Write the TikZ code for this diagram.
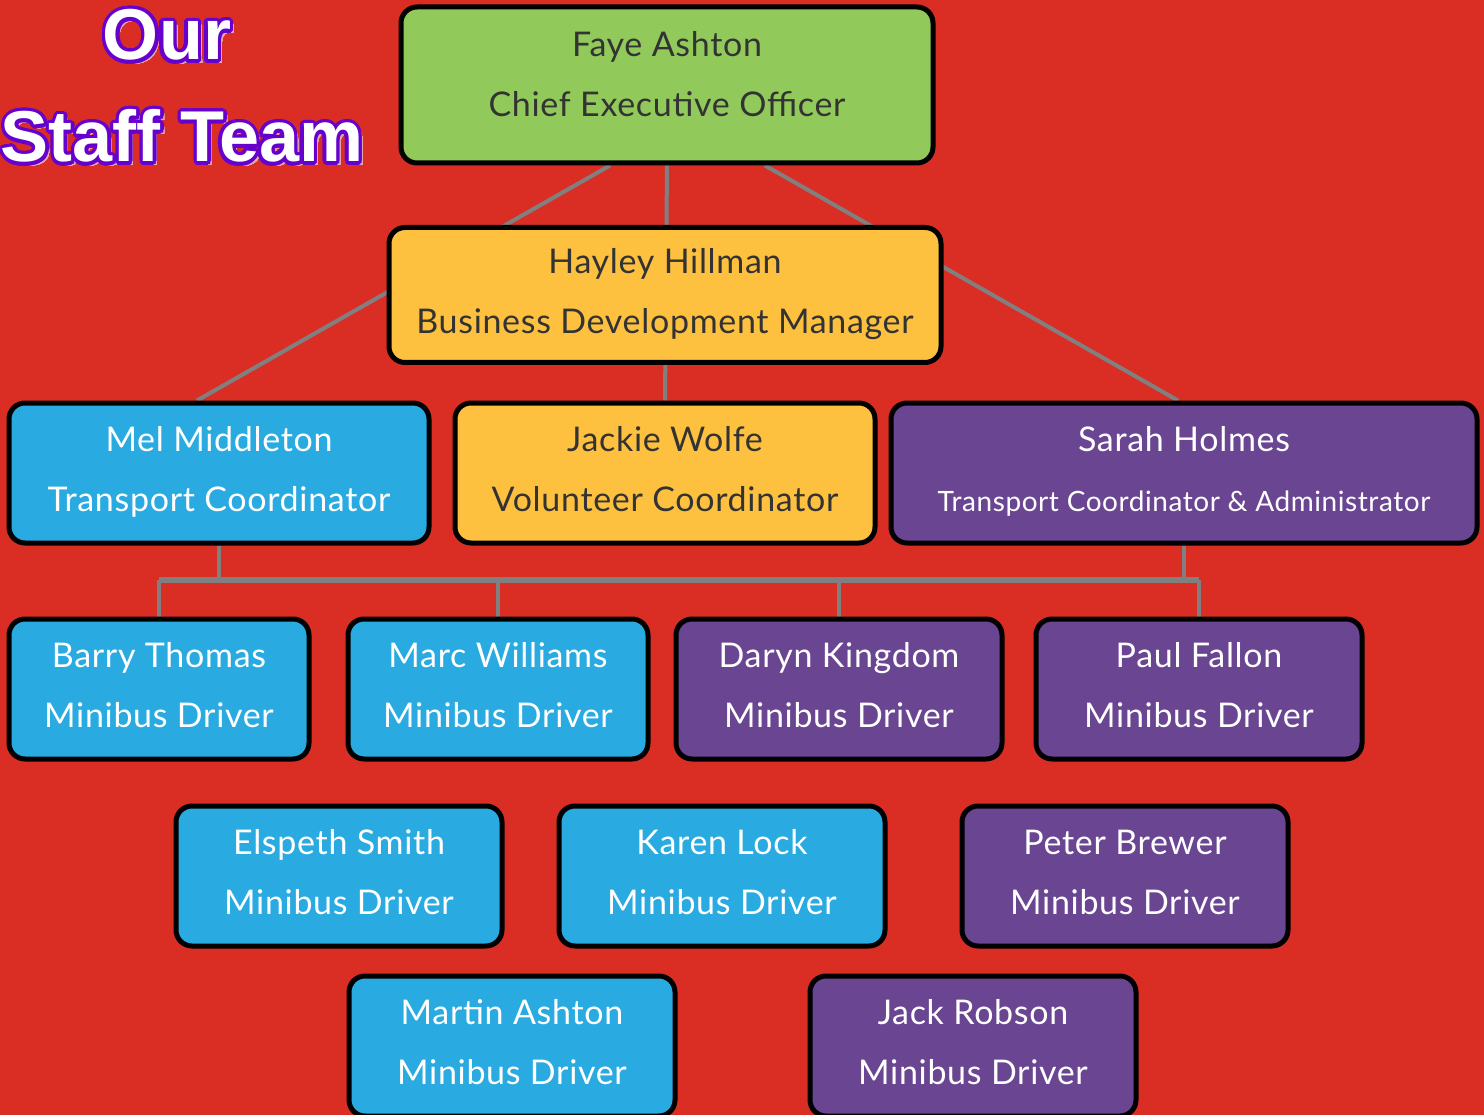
\documentclass[tikz,border=0pt]{standalone}
\usepackage{fontspec}
\setmainfont{Lato}[LetterSpace=2]
\newfontfamily\titlefont{Liberation Sans}
\usetikzlibrary{backgrounds}

\definecolor{bgred}{HTML}{DA2E25}
\definecolor{linegray}{HTML}{808080}
\definecolor{ceogreen}{HTML}{92C95B}
\definecolor{mgryellow}{HTML}{FEC13F}
\definecolor{staffblue}{HTML}{29ABE2}
\definecolor{staffpurple}{HTML}{6A4592}
\definecolor{textdark}{HTML}{333333}
\definecolor{titlepurple}{HTML}{6600CC}
\definecolor{titleshadow}{HTML}{E0A8A8}

\begin{document}
\begin{tikzpicture}[x=1pt,y=-1pt]
    \tikzstyle{edge}=[draw=linegray,line width=4pt]
    \tikzstyle{bus}=[draw=linegray,line width=6pt]
    \tikzstyle{staff}=[rectangle,rounded corners=16pt,draw=black,line width=5pt,
        align=center,inner sep=0pt,minimum height=140pt,text depth=8pt,
        font=\fontsize{34}{60}\selectfont]
    \tikzstyle{greenbox}=[fill=ceogreen,text=textdark]
    \tikzstyle{yellowbox}=[fill=mgryellow,text=textdark]
    \tikzstyle{bluebox}=[fill=staffblue,text=white]
    \tikzstyle{purplebox}=[fill=staffpurple,text=white]
    \tikzstyle{titletext}=[inner sep=0pt,anchor=base,font=\titlefont\bfseries\fontsize{72}{72}\selectfont]

    \def\W{300}
    \def\V{326}

    \useasboundingbox (0,0) rectangle (1484,1115);
    \clip (0,0) rectangle (1484,1115);

    % title
    \foreach \a in {0,22.5,...,337.5} {
        \node[titletext,text=titleshadow] (our-s-\a) at (171,64) {Our};
        \node[titletext,text=titleshadow] (team-s-\a) at (186,166) {Staff Team};
    }
    \foreach \a in {0,22.5,...,337.5} {
        \node[titletext,text=titlepurple,shift={(\a:3.5)}] (our-o-\a) at (167,60) {Our};
        \node[titletext,text=titlepurple,shift={(\a:3.5)}] (team-o-\a) at (182,162) {Staff Team};
    }
    \node[titletext,text=white] (our)  at (167,60)  {Our};
    \node[titletext,text=white] (team) at (182,162) {Staff Team};

    % management
    \node[staff,greenbox,minimum width=532pt,minimum height=156pt,text depth=22pt] (ceo) at (667,85)
        {Faye Ashton\\Chief Executive Officer};
    \node[staff,yellowbox,minimum width=552pt,minimum height=135pt] (bdm) at (665,295)
        {Hayley Hillman\\Business Development Manager};

    \node[staff,bluebox,minimum width=420pt]   (mel)    at (219,473)
        {Mel Middleton\\Transport Coordinator};
    \node[staff,yellowbox,minimum width=420pt] (jackie) at (665,473)
        {Jackie Wolfe\\Volunteer Coordinator};
    \node[staff,purplebox,minimum width=586pt] (sarah)  at (1184,473)
        {Sarah Holmes\\{\fontsize{28}{60}\selectfont Transport Coordinator \& Administrator}};

    % drivers
    \node[staff,bluebox,minimum width=\W pt]   (barry)   at (159,689)  {Barry Thomas\\Minibus Driver};
    \node[staff,bluebox,minimum width=\W pt]   (marc)    at (498,689)  {Marc Williams\\Minibus Driver};
    \node[staff,purplebox,minimum width=\V pt] (daryn)   at (839,689)  {Daryn Kingdom\\Minibus Driver};
    \node[staff,purplebox,minimum width=\V pt] (paul)    at (1199,689) {Paul Fallon\\Minibus Driver};

    \node[staff,bluebox,minimum width=\V pt]   (elspeth) at (339,876)  {Elspeth Smith\\Minibus Driver};
    \node[staff,bluebox,minimum width=\V pt]   (karen)   at (722,876)  {Karen Lock\\Minibus Driver};
    \node[staff,purplebox,minimum width=\V pt] (peter)   at (1125,876) {Peter Brewer\\Minibus Driver};

    \node[staff,bluebox,minimum width=\V pt]   (martin)  at (512,1046) {Martin Ashton\\Minibus Driver};
    \node[staff,purplebox,minimum width=\V pt] (jack)    at (973,1046) {Jack Robson\\Minibus Driver};

    \coordinate (busL) at (159,580);
    \coordinate (busR) at (1199,580);

    \begin{scope}[on background layer]
        \fill[bgred] (0,0) rectangle (1484,1115);

        \path[edge] ([xshift=-57pt]ceo.south) -- ([xshift=-22pt]mel.north);
        \path[edge] (ceo.south) -- (jackie.north);
        \path[edge] ([xshift=98pt]ceo.south) -- ([xshift=-6pt]sarah.north);

        \path[bus] (busL) -- (busR);
        \path[edge] (mel.south) -- (mel.south |- busL);
        \path[edge] (sarah.south) -- (sarah.south |- busL);
        \path[edge] (barry.north) -- (barry.north |- busL);
        \path[edge] (marc.north) -- (marc.north |- busL);
        \path[edge] (daryn.north) -- (daryn.north |- busL);
        \path[edge] (paul.north) -- (paul.north |- busL);
    \end{scope}
\end{tikzpicture}
\end{document}
